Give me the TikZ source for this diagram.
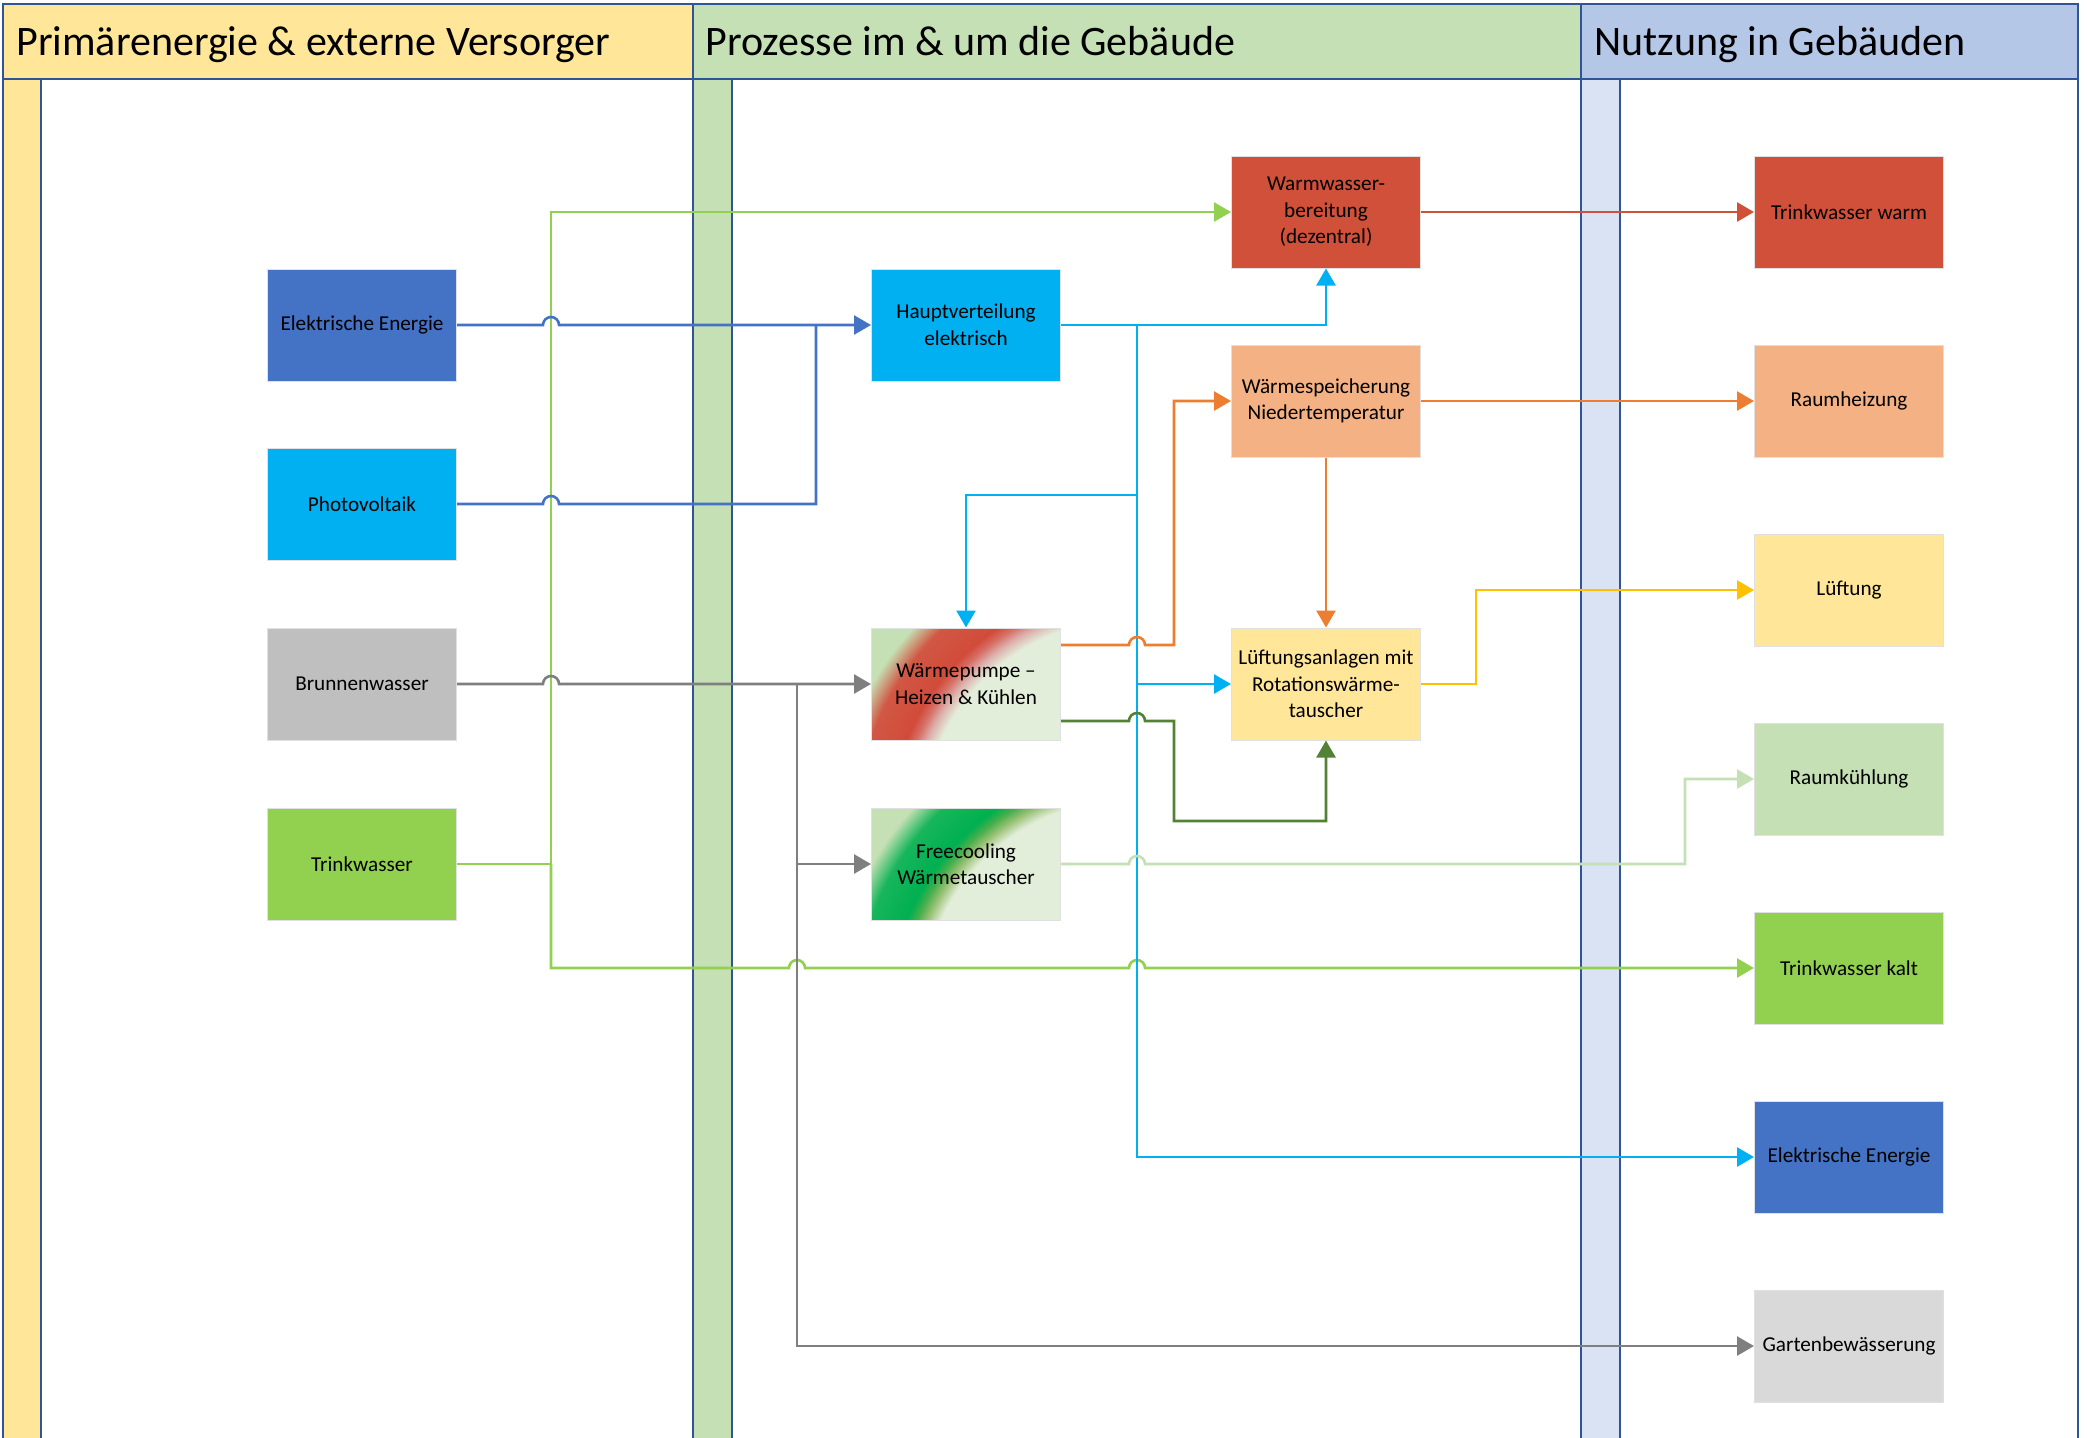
\documentclass[tikz,border=0pt]{standalone}
\usepackage{fontspec}
\setmainfont{Carlito}
\usetikzlibrary{arrows.meta,calc}

\definecolor{hdyellow}{HTML}{FFE699}
\definecolor{hdgreen}{HTML}{C5E0B4}
\definecolor{hdblue}{HTML}{B4C7E7}
\definecolor{stblue}{HTML}{DAE3F3}
\definecolor{frameblue}{HTML}{2F5597}
\definecolor{elblue}{HTML}{4472C4}
\definecolor{pvcyan}{HTML}{00B0F0}
\definecolor{wgray}{HTML}{BFBFBF}
\definecolor{lgray}{HTML}{D9D9D9}
\definecolor{twgreen}{HTML}{92D050}
\definecolor{wwred}{HTML}{D0503A}
\definecolor{wsorange}{HTML}{F4B183}
\definecolor{lineorange}{HTML}{ED7D31}
\definecolor{linegold}{HTML}{FFC000}
\definecolor{linedkgreen}{HTML}{548235}
\definecolor{linegray}{HTML}{7F7F7F}
\definecolor{palegreen}{HTML}{E3EEDA}
\definecolor{wppink}{HTML}{DBA0A0}
\definecolor{wpred}{HTML}{D24B3A}
\definecolor{fcolive}{HTML}{78AD48}
\definecolor{fcgreen}{HTML}{00B050}

% shadings for the two heat pump boxes (25bp = circle radius)
\pgfdeclareradialshading{wpshade}{\pgfpoint{0bp}{0bp}}{color(0bp)=(palegreen); color(15.5bp)=(palegreen); color(16.4bp)=(wppink!80!palegreen); color(17.1bp)=(wpred!55!wppink); color(17.8bp)=(wpred); color(20.3bp)=(wpred!92!hdgreen); color(21.9bp)=(hdgreen); color(25bp)=(hdgreen); color(50bp)=(hdgreen)}
\pgfdeclareradialshading{fcshade}{\pgfpoint{0bp}{0bp}}{color(0bp)=(palegreen); color(15.5bp)=(palegreen); color(16.4bp)=(fcolive!70!palegreen); color(17.1bp)=(fcolive!60!fcgreen); color(17.8bp)=(fcgreen); color(20.3bp)=(fcgreen!88!hdgreen); color(21.9bp)=(hdgreen); color(25bp)=(hdgreen); color(50bp)=(hdgreen)}

\begin{document}
\begin{tikzpicture}[x=0.5pt, y=-0.5pt,
    box/.style={draw=black!12, line width=0.5pt, minimum width=94.5pt, minimum height=56pt,
        align=center, inner sep=1pt, font=\fontsize{10.6}{13.3}\selectfont},
    frame/.style={draw=frameblue, line width=0.8pt},
    head/.style={anchor=base west, inner sep=0pt, font=\fontsize{21}{25}\selectfont},
    link/.style={line width=1.3pt},
    flow/.style={link, -{Triangle[length=8.5pt, width=9.5pt]}}]

    \useasboundingbox (0,0) rectangle (2087,1437);

    % swimlanes
    \draw[frame, fill=white] (3,79) rectangle (693,1450);
    \draw[frame, fill=white] (693,79) rectangle (1581,1450);
    \draw[frame, fill=white] (1581,79) rectangle (2078,1450);
    \draw[frame, fill=hdyellow] (3,79) rectangle (41,1450);
    \draw[frame, fill=hdgreen] (693,79) rectangle (732,1450);
    \draw[frame, fill=stblue] (1581,79) rectangle (1620,1450);
    \draw[frame, fill=hdyellow] (3,4) rectangle (693,79);
    \draw[frame, fill=hdgreen] (693,4) rectangle (1581,79);
    \draw[frame, fill=hdblue] (1581,4) rectangle (2078,79);

    \node[head] (lane1) at (16,55) {Primärenergie \& externe Versorger};
    \node[head] (lane2) at (705,55) {Prozesse im \& um die Gebäude};
    \node[head] (lane3) at (1594,55) {Nutzung in Gebäuden};

    % sources
    \node[box, fill=elblue] (ee) at (362,325) {Elektrische Energie};
    \node[box, fill=pvcyan] (pv) at (362,504) {Photovoltaik};
    \node[box, fill=wgray] (bw) at (362,684) {Brunnenwasser};
    \node[box, fill=twgreen] (tw) at (362,864) {Trinkwasser};

    % processes
    \node[box, fill=hdgreen, path picture={
        \shade[shading=wpshade] ($(path picture bounding box.south east)+(35.5pt,-44.8pt)$) circle (170pt);}]
        (wp) at (966,684) {Wärmepumpe –\\Heizen \& Kühlen};
    \node[box, fill=hdgreen, path picture={
        \shade[shading=fcshade] ($(path picture bounding box.south east)+(35.5pt,-44.8pt)$) circle (170pt);}]
        (fc) at (966,864) {Freecooling\\Wärmetauscher};
    \node[box, fill=pvcyan] (hv) at (966,325) {Hauptverteilung\\elektrisch};
    \node[box, fill=wwred] (ww) at (1326,212) {Warmwasser-\\bereitung\\(dezentral)};
    \node[box, fill=wsorange] (ws) at (1326,401) {Wärmespeicherung\\Niedertemperatur};
    \node[box, fill=hdyellow] (la) at (1326,684) {Lüftungsanlagen mit\\Rotationswärme-\\tauscher};

    % uses
    \node[box, fill=wwred] (tww) at (1849,212) {Trinkwasser warm};
    \node[box, fill=wsorange] (rh) at (1849,401) {Raumheizung};
    \node[box, fill=hdyellow] (lu) at (1849,590) {Lüftung};
    \node[box, fill=hdgreen] (rk) at (1849,779) {Raumkühlung};
    \node[box, fill=twgreen] (twk) at (1849,968) {Trinkwasser kalt};
    \node[box, fill=elblue] (ee2) at (1849,1157) {Elektrische Energie};
    \node[box, fill=lgray] (gb) at (1849,1346) {Gartenbewässerung};

    % junctions
    \coordinate (gj) at (551,864);
    \coordinate (cj) at (1137,325);
    \coordinate (bj) at (797,684);

    % drinking water
    \draw[flow, twgreen] (tw.east) -- (gj) |- (ww.west);
    \draw[flow, twgreen] (gj) -- (551,968) -- (789,968) arc[start angle=180, end angle=0, radius=4pt]
        -- (1129,968) arc[start angle=180, end angle=0, radius=4pt] -- (twk.west);

    % electricity
    \draw[flow, elblue] (ee.east) -- (543,325) arc[start angle=180, end angle=0, radius=4pt] -- (hv.west);
    \draw[link, elblue] (pv.east) -- (543,504) arc[start angle=180, end angle=0, radius=4pt] -- (816,504) -- (816,325);
    \draw[flow, pvcyan] (hv.east) -| (ww.south);
    \draw[flow, pvcyan] (cj) |- (ee2.west);
    \draw[flow, pvcyan] (1137,495) -| (wp.north);
    \draw[flow, pvcyan] (1137,684) -- (la.west);

    % well water
    \draw[flow, linegray] (bw.east) -- (543,684) arc[start angle=180, end angle=0, radius=4pt] -- (wp.west);
    \draw[flow, linegray] (bj) |- (gb.west);
    \draw[flow, linegray] (797,864) -- (fc.west);

    % heat pump outputs
    \draw[flow, lineorange] ($(wp.east)+(0,-39)$) -- (1129,645) arc[start angle=180, end angle=0, radius=4pt]
        -- (1174,645) |- (ws.west);
    \draw[flow, linedkgreen] ($(wp.east)+(0,37)$) -- (1129,721) arc[start angle=180, end angle=0, radius=4pt]
        -- (1174,721) -- (1174,821) -| (la.south);
    \draw[flow, hdgreen] (fc.east) -- (1129,864) arc[start angle=180, end angle=0, radius=4pt]
        -- (1685,864) |- (rk.west);

    % to the rooms
    \draw[flow, wwred] (ww.east) -- (tww.west);
    \draw[flow, lineorange] (ws.east) -- (rh.west);
    \draw[flow, lineorange] (ws.south) -- (la.north);
    \draw[flow, linegold] (la.east) -- (1476,684) |- (lu.west);

\end{tikzpicture}
\end{document}
